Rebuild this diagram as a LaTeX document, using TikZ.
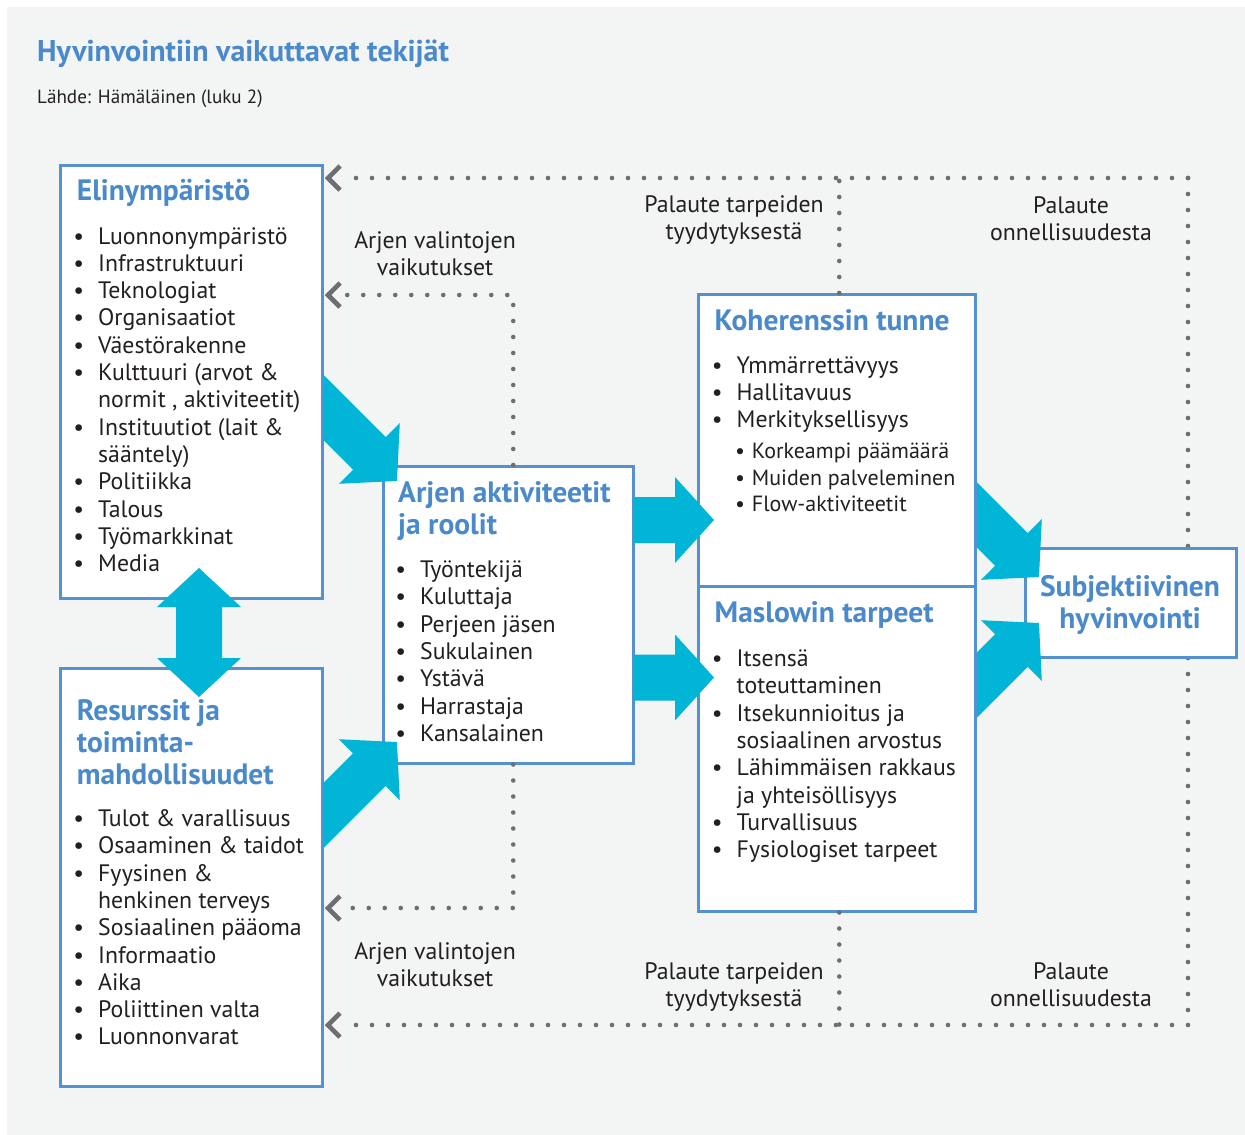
\documentclass[tikz,border=0pt]{standalone}
\usepackage{fontspec}
\setmainfont{PT Sans}
\usetikzlibrary{calc}

\definecolor{bgray}{HTML}{F3F4F4}
\definecolor{boxblue}{HTML}{5591CE}
\definecolor{headblue}{HTML}{4A8ACB}
\definecolor{fatcyan}{HTML}{00B5D6}
\definecolor{dotgray}{HTML}{6D6E71}
\definecolor{ink}{HTML}{231F20}

% bullets hanging to the left of the item text
\newcommand\bl{\llap{\makebox[0pt]{\textbullet}\hspace{19.5pt}}}
\newcommand\sbl{\llap{\makebox[0pt]{\textbullet}\hspace{11.7pt}}}

% a column of text lines: name prefix, style, x, first baseline, step, lines
\newcommand\textlines[6]{%
  \foreach \t [count=\i from 0] in {#6} {%
    \node[#2] (#1-\i) at (#3,{#4+#5*\i}) {\t};}}

% broad arrow from a tail point to a tip point
\newcommand\fatarrow[2]{%
  \fill[fatcyan] let \p1=($(#2)-(#1)$), \n1={atan2(\y1,\x1)}, \n2={veclen(\x1,\y1)} in
    [shift={(#1)}, rotate=\n1]
    (0,-23) -- ({\n2-39},-23) -- ({\n2-39},-43) -- (\n2,0) --
    ({\n2-39},43) -- ({\n2-39},23) -- (0,23) -- cycle;}

\tikzset{
  panel/.style={draw=boxblue, line width=2.5pt, fill=white, inner sep=0pt, anchor=north west},
  head/.style={text=headblue, font=\bfseries\fontsize{29.5}{34}\selectfont, inner sep=0pt, anchor=base west},
  item/.style={text=ink, font=\fontsize{23.8}{28}\selectfont, inner sep=0pt, anchor=base west},
  subitem/.style={text=ink, font=\fontsize{22}{26}\selectfont, inner sep=0pt, anchor=base west},
  lbl/.style={text=ink, font=\fontsize{23.8}{28}\selectfont, inner sep=0pt, anchor=base},
  dots/.style={draw=dotgray, line width=4.6pt, line cap=round, dash pattern=on 0pt off 16pt},
  chev/.style={draw=dotgray, line width=4.6pt, line cap=butt, line join=miter},
}

\begin{document}
\begin{tikzpicture}[x=1pt, y=-1pt]
\useasboundingbox (0,0) rectangle (1245,1135);
\fill[white] (0,0) rectangle (1245,1135);
\fill[bgray] (7,7) rectangle (1245,1135);

% title and source
\node[text=headblue, font=\bfseries\fontsize{30}{36}\selectfont, inner sep=0pt, anchor=base west] (title) at (37,61.7) {Hyvinvointiin vaikuttavat tekijät};
\node[text=ink, font=\fontsize{19.1}{22}\selectfont, inner sep=0pt, anchor=base west] (source) at (37,103.3) {Lähde: Hämäläinen (luku 2)};

% feedback loop corners and chevron tips
\coordinate (fbT) at (1188,178);
\coordinate (fbB) at (1188,1025);
\coordinate (tipT) at (328,178);
\coordinate (tipA) at (328,295);
\coordinate (tipAB) at (328,908);
\coordinate (tipB) at (328,1025);

% daily activities panel
\node[panel, minimum width=250pt, minimum height=297pt] (arki) at (382,465) {};

% dotted feedback paths
\draw[dots] (fbT) -- ([xshift=16pt]tipT);
\draw[dots] (fbT) -- (fbB);
\draw[dots] (fbB) -- ([xshift=16pt]tipB);
\draw[dots] ([xshift=5pt]arki.north) |- ([xshift=16pt]tipA);
\draw[dots] ([xshift=5pt]arki.south) |- ([xshift=16pt]tipAB);

% well-being panel sits over the right loop line
\node[panel, minimum width=211pt, minimum height=109pt] (subj) at (1024,547) {};

% broad arrows whose tails hide under the panels drawn next
\coordinate (a2t) at (300,384);  \coordinate (a2h) at (397,481);
\coordinate (a3t) at (300,839);  \coordinate (a3h) at (397,742);
\coordinate (a6t) at (955,493);  \coordinate (a6h) at (1039,577);
\coordinate (a7t) at (955,707);  \coordinate (a7h) at (1039,623);
\fatarrow{a2t}{a2h}
\fatarrow{a3t}{a3h}
\fatarrow{a6t}{a6h}
\fatarrow{a7t}{a7h}

% remaining panels
\node[panel, minimum width=262pt, minimum height=433pt] (elin) at (59,164) {};
\node[panel, minimum width=262pt, minimum height=418pt] (res) at (59,667) {};
\node[panel, minimum width=277pt, minimum height=292pt] (koh) at (697,293) {};
\node[panel, minimum width=277pt, minimum height=325pt] (mas) at (697,585) {};

\draw[dots] ([xshift=2.5pt]koh.north) -- ([xshift=2.5pt]koh.north |- fbT);
\draw[dots] ([xshift=2.5pt]mas.south) -- ([xshift=2.5pt]mas.south |- fbB);

\foreach \c in {tipT,tipA,tipAB,tipB}
  \draw[chev] ([shift={(12,-12)}]\c) -- (\c) -- ([shift={(12,12)}]\c);

% arrows from the daily activities to the right panels
\coordinate (a4t) at (633.3,520);   \coordinate (a4h) at (714,520);
\coordinate (a5t) at (633.3,677.5); \coordinate (a5h) at (714,677.5);
\fatarrow{a4t}{a4h}
\fatarrow{a5t}{a5h}

% two-way arrow between the left panels
\coordinate (dbl) at (199,632.5);
\begin{scope}[shift={(dbl)}]
  \fill[fatcyan] (0,-64.5) -- (42,-25.5) -- (23,-25.5) -- (23,25.5) -- (42,25.5)
    -- (0,64.5) -- (-42,25.5) -- (-23,25.5) -- (-23,-25.5) -- (-42,-25.5) -- cycle;
\end{scope}

% panel texts
\node[head] (elin-h) at (76.7,200.7) {Elinympäristö};
\textlines{elin-l}{item}{98}{244}{27.3}{%
  \bl Luonnonympäristö, \bl Infrastruktuuri, \bl Teknologiat, \bl Organisaatiot,
  \bl Väestörakenne, \bl Kulttuuri (arvot \&, {normit , aktiviteetit)},
  \bl Instituutiot (lait \&, sääntely), \bl Politiikka, \bl Talous,
  \bl Työmarkkinat, \bl Media}

\textlines{res-h}{head}{76.7}{720.5}{32}{Resurssit ja, toiminta-, mahdollisuudet}
\textlines{res-l}{item}{98}{826.5}{27.3}{%
  \bl Tulot \& varallisuus, \bl Osaaminen \& taidot, \bl Fyysinen \&,
  henkinen terveys, \bl Sosiaalinen pääoma, \bl Informaatio, \bl Aika,
  \bl Poliittinen valta, \bl Luonnonvarat}

\textlines{arki-h}{head}{398}{502.5}{32}{Arjen aktiviteetit, ja roolit}
\textlines{arki-l}{item}{420}{577.5}{27.3}{%
  \bl Työntekijä, \bl Kuluttaja, \bl Perjeen jäsen, \bl Sukulainen,
  \bl Ystävä, \bl Harrastaja, \bl Kansalainen}

\node[head] (koh-h) at (714.5,330) {Koherenssin tunne};
\textlines{koh-l}{item}{736.5}{373.3}{27.3}{%
  \bl Ymmärrettävyys, \bl Hallitavuus, \bl Merkityksellisyys}
\textlines{koh-s}{subitem}{751.7}{458.3}{26.7}{%
  \sbl Korkeampi päämäärä, \sbl Muiden palveleminen, \sbl Flow-aktiviteetit}

\node[head] (mas-h) at (714.5,622.5) {Maslowin tarpeet};
\textlines{mas-l}{item}{736.5}{666.5}{27.3}{%
  \bl Itsensä, toteuttaminen, \bl Itsekunnioitus ja, sosiaalinen arvostus,
  \bl Lähimmäisen rakkaus, ja yhteisöllisyys, \bl Turvallisuus,
  \bl Fysiologiset tarpeet}

\textlines{subj-t}{head, anchor=base}{1130}{596.5}{32}{Subjektiivinen, hyvinvointi}

% loop labels
\textlines{lblA}{lbl}{435}{248.5}{27}{Arjen valintojen, vaikutukset}
\textlines{lblAB}{lbl}{435}{959.5}{27}{Arjen valintojen, vaikutukset}
\textlines{lblN}{lbl}{734}{212.5}{27}{Palaute tarpeiden, tyydytyksestä}
\textlines{lblNB}{lbl}{734}{979.5}{27}{Palaute tarpeiden, tyydytyksestä}
\textlines{lblO}{lbl}{1071}{213.3}{27}{Palaute, onnellisuudesta}
\textlines{lblOB}{lbl}{1071}{979.5}{27}{Palaute, onnellisuudesta}
\end{tikzpicture}
\end{document}
